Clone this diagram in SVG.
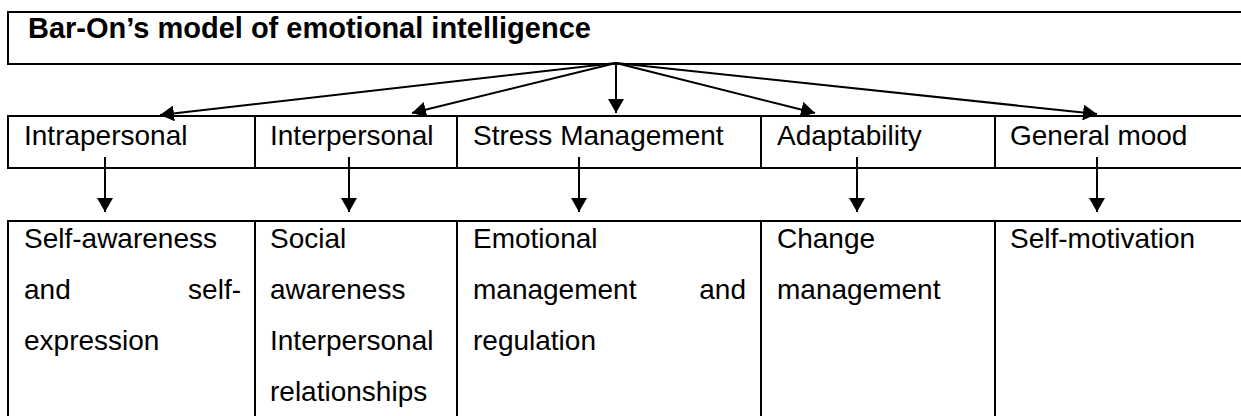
<svg xmlns="http://www.w3.org/2000/svg" width="1241" height="416" viewBox="0 0 1241 416">
<style>
.box{fill:#fff;stroke:#000;stroke-width:2}
.div{stroke:#000;stroke-width:2}
.t{font-family:"Liberation Sans",Arial,sans-serif;font-size:28px;fill:#000}
.title{font-family:"Liberation Sans",Arial,sans-serif;font-size:29px;font-weight:bold;fill:#000}
.c{stroke:#000;stroke-width:2;fill:none;marker-end:url(#ah)}
</style>
<defs>
<marker id="ah" markerUnits="userSpaceOnUse" markerWidth="16" markerHeight="16" refX="14" refY="8" orient="auto">
<path d="M0,0 L14,8 L0,16 z" fill="#000"/>
</marker>
</defs>
<rect width="1241" height="416" fill="#fff"/>
<g id="title">
<rect class="box" x="8" y="12" width="1250" height="52"/>
<text class="title" x="28" y="38">Bar-On’s model of emotional intelligence</text>
</g>
<g id="row2">
<rect class="box" x="8" y="116" width="1250" height="52"/>
<line class="div" x1="255" y1="116" x2="255" y2="168"/>
<line class="div" x1="457" y1="116" x2="457" y2="168"/>
<line class="div" x1="761" y1="116" x2="761" y2="168"/>
<line class="div" x1="995" y1="116" x2="995" y2="168"/>
</g>
<g id="intrapersonal"><text class="t" x="24" y="145">Intrapersonal</text></g>
<g id="interpersonal"><text class="t" x="270" y="145">Interpersonal</text></g>
<g id="stress"><text class="t" x="473" y="145">Stress Management</text></g>
<g id="adaptability"><text class="t" x="777" y="145">Adaptability</text></g>
<g id="mood"><text class="t" x="1010" y="145">General mood</text></g>
<g id="row3">
<rect class="box" x="8" y="221" width="1250" height="220"/>
<line class="div" x1="255" y1="221" x2="255" y2="416"/>
<line class="div" x1="457" y1="221" x2="457" y2="416"/>
<line class="div" x1="761" y1="221" x2="761" y2="416"/>
<line class="div" x1="995" y1="221" x2="995" y2="416"/>
</g>
<g id="self-awareness">
<text class="t" x="24" y="248">Self-awareness</text>
<text class="t" x="24" y="299">and</text>
<text class="t" x="241" y="299" text-anchor="end">self-</text>
<text class="t" x="24" y="350">expression</text>
</g>
<g id="social">
<text class="t" x="270" y="248">Social</text>
<text class="t" x="270" y="299">awareness</text>
<text class="t" x="270" y="350">Interpersonal</text>
<text class="t" x="270" y="401">relationships</text>
</g>
<g id="emotional">
<text class="t" x="473" y="248">Emotional</text>
<text class="t" x="473" y="299">management</text>
<text class="t" x="746" y="299" text-anchor="end">and</text>
<text class="t" x="473" y="350">regulation</text>
</g>
<g id="change">
<text class="t" x="777" y="248">Change</text>
<text class="t" x="777" y="299">management</text>
</g>
<g id="self-motivation">
<text class="t" x="1010" y="248">Self-motivation</text>
</g>
<g id="connectors">
<line class="c" x1="616" y1="63" x2="160" y2="115"/>
<line class="c" x1="616" y1="63" x2="412" y2="113"/>
<line class="c" x1="616" y1="63" x2="616" y2="113"/>
<line class="c" x1="616" y1="63" x2="815" y2="113"/>
<line class="c" x1="616" y1="63" x2="1097" y2="114"/>
<line class="c" x1="105" y1="157" x2="105" y2="212"/>
<line class="c" x1="349" y1="157" x2="349" y2="212"/>
<line class="c" x1="579" y1="157" x2="579" y2="212"/>
<line class="c" x1="857" y1="157" x2="857" y2="212"/>
<line class="c" x1="1097" y1="157" x2="1097" y2="212"/>
</g>
</svg>
